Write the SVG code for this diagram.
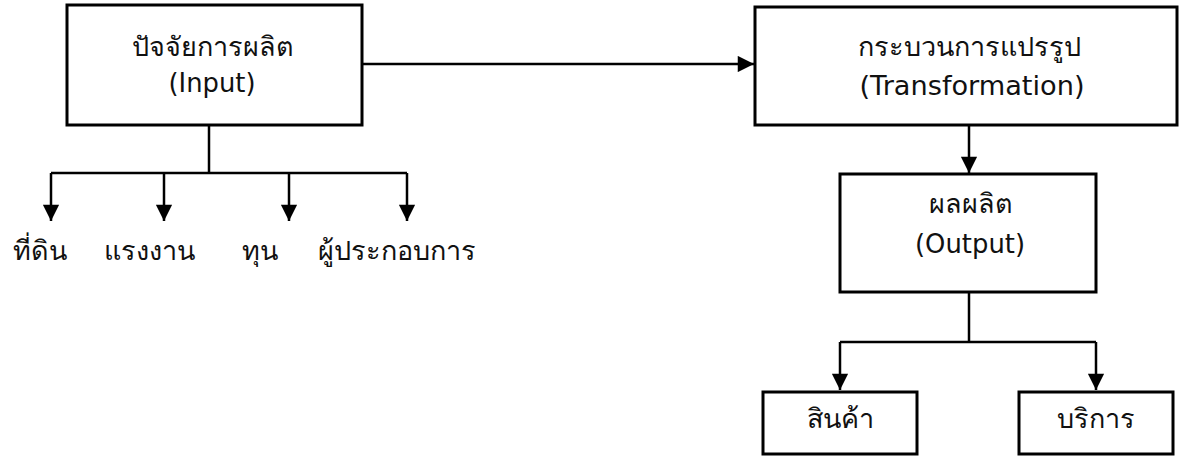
<svg xmlns="http://www.w3.org/2000/svg" width="1179" height="456" viewBox="0 0 1179 456">
<defs>
<style>
.box{fill:#fff;stroke:#000;stroke-width:3}
.ln{fill:none;stroke:#000;stroke-width:2.5}
text{font-family:Tahoma,"DejaVu Sans","Noto Sans",sans-serif;fill:#111;text-anchor:middle}
.th{font-size:27px}
.en{font-size:26px}
</style>
<marker id="ah" viewBox="0 0 10 10" refX="10" refY="5" markerWidth="6.8" markerHeight="6.5" markerUnits="strokeWidth" orient="auto">
<path d="M0,0 L10,5 L0,10 Z" fill="#000"/>
</marker>
</defs>
<rect width="1179" height="456" fill="#fff"/>
<g id="connectors">
<line class="ln" x1="362" y1="64" x2="754" y2="64" marker-end="url(#ah)"/>
<line class="ln" x1="209" y1="125" x2="209" y2="173"/>
<line class="ln" x1="51" y1="173" x2="407" y2="173"/>
<line class="ln" x1="51" y1="173" x2="51" y2="221" marker-end="url(#ah)"/>
<line class="ln" x1="164" y1="173" x2="164" y2="221" marker-end="url(#ah)"/>
<line class="ln" x1="289" y1="173" x2="289" y2="221" marker-end="url(#ah)"/>
<line class="ln" x1="407" y1="173" x2="407" y2="221" marker-end="url(#ah)"/>
<line class="ln" x1="969" y1="125" x2="969" y2="173" marker-end="url(#ah)"/>
<line class="ln" x1="969" y1="292" x2="969" y2="342"/>
<line class="ln" x1="840" y1="342" x2="1096" y2="342"/>
<line class="ln" x1="840" y1="342" x2="840" y2="390" marker-end="url(#ah)"/>
<line class="ln" x1="1096" y1="342" x2="1096" y2="390" marker-end="url(#ah)"/>
</g>
<g id="input">
<rect class="box" x="67" y="5" width="295" height="120"/>
<text class="th" x="213" y="56">ปัจจัยการผลิต</text>
<text class="en" x="212" y="92" textLength="87" lengthAdjust="spacingAndGlyphs">(Input)</text>
</g>
<g id="transformation">
<rect class="box" x="755" y="7" width="422" height="118"/>
<text class="th" x="969" y="56">กระบวนการแปรรูป</text>
<text class="en" x="972" y="95" textLength="225" lengthAdjust="spacingAndGlyphs">(Transformation)</text>
</g>
<g id="output">
<rect class="box" x="840" y="174" width="256" height="118"/>
<text class="th" x="971" y="213">ผลผลิต</text>
<text class="en" x="970" y="253" textLength="110" lengthAdjust="spacingAndGlyphs">(Output)</text>
</g>
<g id="land"><text class="th" x="40" y="260">ที่ดิน</text></g>
<g id="labor"><text class="th" x="149" y="260">แรงงาน</text></g>
<g id="capital"><text class="th" x="260" y="260">ทุน</text></g>
<g id="entrepreneur"><text class="th" x="397" y="260">ผู้ประกอบการ</text></g>
<g id="goods">
<rect class="box" x="763" y="392" width="154" height="62"/>
<text class="th" x="840" y="428">สินค้า</text>
</g>
<g id="services">
<rect class="box" x="1019" y="392" width="154" height="62"/>
<text class="th" x="1096" y="428">บริการ</text>
</g>
</svg>
